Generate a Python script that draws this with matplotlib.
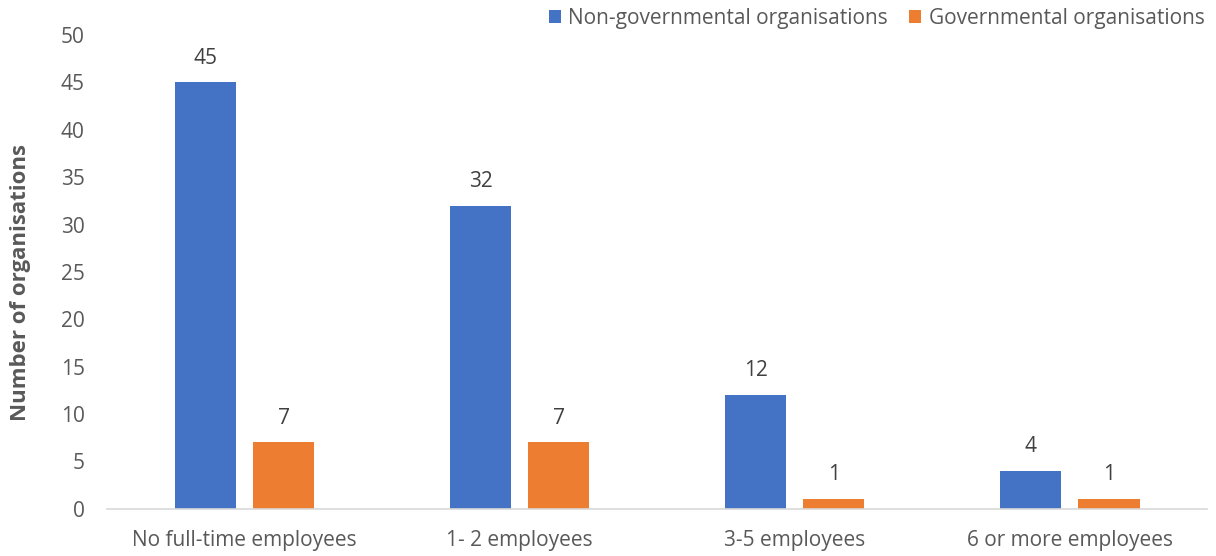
import matplotlib
matplotlib.use("Agg")
import matplotlib.pyplot as plt
import numpy as np

categories = ["No full-time employees", "1- 2 employees", "3-5 employees", "6 or more employees"]
ngo_values = [45, 32, 12, 4]
gov_values = [7, 7, 1, 1]
series_names = ["Non-governmental organisations", "Governmental organisations"]
y_ticks = [0, 5, 10, 15, 20, 25, 30, 35, 40, 45, 50]

plt.rcParams["font.family"] = ["Open Sans", "DejaVu Sans"]
text_color = "#595959"
blue = "#4472C4"
orange = "#ED7D31"

fig = plt.figure(figsize=(12.16, 5.56), dpi=100)
ax = fig.add_axes([0.088, 0.085, 0.905, 0.852])

x = np.arange(len(categories))
width = 0.222
offset = 0.142
b1 = ax.bar(x - offset, ngo_values, width, color=blue, label=series_names[0])
b2 = ax.bar(x + offset, gov_values, width, color=orange, label=series_names[1])

for bars, vals in ((b1, ngo_values), (b2, gov_values)):
    for rect, v in zip(bars, vals):
        ax.annotate(str(v), (rect.get_x() + rect.get_width() / 2, v),
                    xytext=(0, 10), textcoords="offset points",
                    ha="center", va="bottom", fontsize=15, color="#404040")

ax.set_xlim(-0.5, len(categories) - 0.5)
ax.set_ylim(0, 50)
ax.set_yticks(y_ticks)
ax.set_xticks(x)
ax.set_xticklabels(categories)
ax.tick_params(axis="both", length=0, labelsize=15, colors=text_color)
ax.tick_params(axis="y", pad=16)
ax.tick_params(axis="x", pad=15)

for side in ("top", "right", "left"):
    ax.spines[side].set_visible(False)
ax.spines["bottom"].set_color("#D9D9D9")
ax.spines["bottom"].set_linewidth(1.2)

ax.set_ylabel("Number of organisations", fontsize=16, fontweight="bold",
              color=text_color)
ax.yaxis.set_label_coords(-0.069, 0.477)

leg = ax.legend(loc="upper right", bbox_to_anchor=(1.005, 1.075), ncol=2,
                frameon=False, fontsize=15, handlelength=0.6, handleheight=0.6,
                handletextpad=0.35, columnspacing=1.0, borderaxespad=0)
for t in leg.get_texts():
    t.set_color(text_color)

fig.savefig("out.png", dpi=100)
